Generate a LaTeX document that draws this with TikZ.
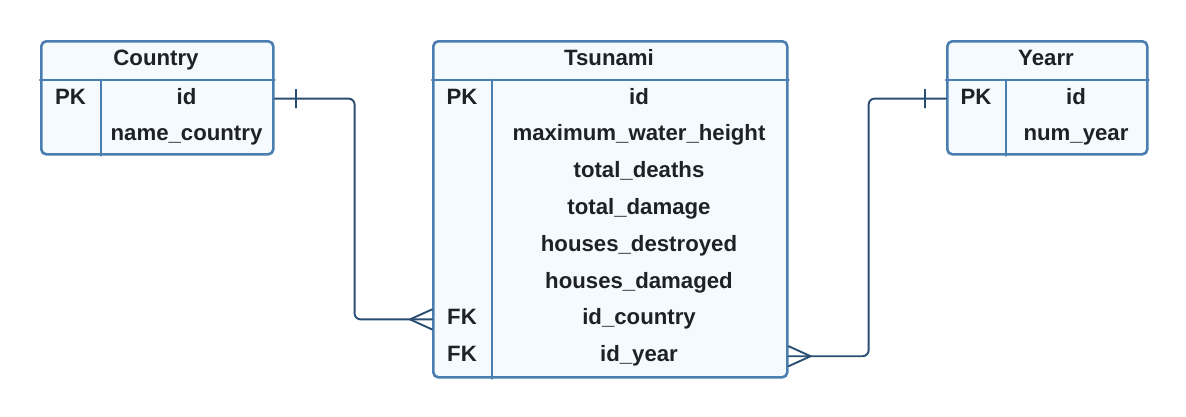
\documentclass[tikz,border=0pt]{standalone}
\usepackage{fontspec}
\setmainfont{Liberation Sans}
\usetikzlibrary{positioning}

\definecolor{boxline}{HTML}{4A7EB0}
\definecolor{boxfill}{HTML}{F5FAFF}
\definecolor{linkline}{HTML}{2A4D72}
\definecolor{txtcol}{HTML}{1E2226}

\begin{document}
\begin{tikzpicture}[x=1pt, y=-1pt, line join=round, line cap=round,
	entity/.style={draw=boxline, fill=boxfill, line width=2.6pt, rounded corners=5pt, inner sep=0pt, anchor=north west},
	rule/.style={draw=boxline, line width=2.6pt},
	field/.style={font=\bfseries\fontsize{22.2}{25}\selectfont, text=txtcol, inner sep=0pt, text height=16pt, text depth=5pt},
	link/.style={draw=linkline, line width=1.9pt, rounded corners=6pt},
	foot/.style={draw=linkline, line width=1.9pt}]
	\useasboundingbox (0, 0) rectangle (1186, 416);

	% Khung các bảng
	\node[entity, minimum width=232pt, minimum height=113pt] (country) at (40, 40) {};
	\node[entity, minimum width=354pt, minimum height=336pt] (tsunami) at (432, 40) {};
	\node[entity, minimum width=200pt, minimum height=113pt] (yearr) at (946, 40) {};

	% Đường kẻ tiêu đề và cột khóa
	\foreach \tb/\col in {country/61, tsunami/60, yearr/60} {
		\draw[rule] ([yshift=-40pt]\tb.north west) -- ([yshift=-40pt]\tb.north east);
		\draw[rule] ([xshift=\col pt, yshift=-40pt]\tb.north west) -- ([xshift=\col pt]\tb.south west);
	}

	% Bảng Country
	\node[field] (c-title) at (156, 60) {Country};
	\node[field] (c-pk) at (70.5, 98.6) {PK};
	\foreach \name [count=\i] in {id, name\_country}
		\node[field] (c-\i) at (186.5, 98.6+36.8*\i-36.8) {\name};

	% Bảng Tsunami
	\node[field] (t-title) at (609, 60) {Tsunami};
	\foreach \name [count=\i] in {id, maximum\_water\_height, total\_deaths, total\_damage,
		houses\_destroyed, houses\_damaged, id\_country, id\_year}
		\node[field] (t-\i) at (639, 98.6+36.8*\i-36.8) {\name};
	\node[field] (t-pk) at (462, 98.6) {PK};
	\node[field] (t-fk1) at (462, 319.4) {FK};
	\node[field] (t-fk2) at (462, 356.2) {FK};

	% Bảng Yearr
	\node[field] (y-title) at (1046, 60) {Yearr};
	\node[field] (y-pk) at (976, 98.6) {PK};
	\foreach \name [count=\i] in {id, num\_year}
		\node[field] (y-\i) at (1076, 98.6+36.8*\i-36.8) {\name};

	% Liên kết Country -- Tsunami
	\draw[link] (country.east |- c-1) -- ++(80, 0) |- (tsunami.west |- t-7);
	\draw[foot] ([xshift=21pt, yshift=9pt]country.east |- c-1) -- ([xshift=21pt, yshift=-9pt]country.east |- c-1);
	\draw[foot] ([yshift=10pt]tsunami.west |- t-7) -- ([xshift=-22pt]tsunami.west |- t-7) -- ([yshift=-10pt]tsunami.west |- t-7);

	% Liên kết Tsunami -- Yearr
	\draw[link] (tsunami.east |- t-8) -- ++(80, 0) |- (yearr.west |- y-1);
	\draw[foot] ([xshift=-21pt, yshift=9pt]yearr.west |- y-1) -- ([xshift=-21pt, yshift=-9pt]yearr.west |- y-1);
	\draw[foot] ([yshift=10pt]tsunami.east |- t-8) -- ([xshift=22pt]tsunami.east |- t-8) -- ([yshift=-10pt]tsunami.east |- t-8);
\end{tikzpicture}
\end{document}
